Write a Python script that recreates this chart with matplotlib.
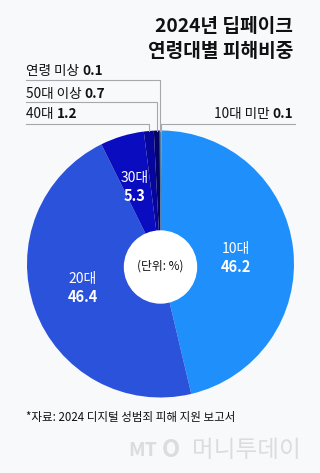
import numpy as np
import matplotlib.pyplot as plt

plt.rcParams['font.family'] = ['Noto Sans CJK KR', 'DejaVu Sans']

W, H = 320, 473

# slices clockwise from 12 o'clock
groups = ['10대 미만', '10대', '20대', '30대', '40대', '50대 이상', '연령 미상']
shares = [0.1, 46.2, 46.4, 5.3, 1.2, 0.7, 0.1]
colors = ['#46C8F2', '#1E8FFB', '#2B52DA', '#0A0CC0', '#06079A', '#030466', '#0B1640']

title_lines = ['2024년 딥페이크', '연령대별 피해비중']
source = '*자료: 2024 디지털 성범죄 피해 지원 보고서'

cx, cy, r = 160.5, 264, 133.5


def Y(y):
    return H - y


fig = plt.figure(figsize=(W / 100, H / 100), dpi=100)
fig.patch.set_facecolor('#F8F9FB')
ax = fig.add_axes([0, 0, 1, 1])
ax.set_facecolor('#F8F9FB')

ax.pie(shares, colors=colors, startangle=90, counterclock=False,
       center=(cx, Y(cy)), radius=r, wedgeprops=dict(linewidth=0))
ax.add_patch(plt.Circle((cx, Y(cy + 3)), 36, color='white', zorder=3))
ax.set_xlim(0, W)
ax.set_ylim(0, H)
ax.set_aspect('auto')
ax.axis('off')

# title
ax.text(293, Y(27), title_lines[0], ha='right', va='center', fontsize=13.8,
        fontweight='bold', color='#111111')
ax.text(293, Y(52), title_lines[1], ha='right', va='center', fontsize=13.8,
        fontweight='bold', color='#111111')

# wedge mid angles (degrees clockwise from top)
cum = np.cumsum([0] + shares)
mid = [(cum[i] + cum[i + 1]) / 2 * 3.6 for i in range(len(shares))]


def edge(i):
    a = np.radians(mid[i])
    return cx + r * np.sin(a), cy - r * np.cos(a)


def two_part(x, y, name, val, ha='left'):
    if ha == 'left':
        t = ax.text(x, Y(y), name + ' ', ha='left', va='center', fontsize=9.8, color='#111111')
        ax.annotate(val, xy=(1, 0.5), xycoords=t, ha='left', va='center',
                    fontsize=9.8, fontweight='bold', color='#111111')
    else:
        t = ax.text(x, Y(y), val, ha='right', va='center', fontsize=9.8,
                    fontweight='bold', color='#111111')
        ax.annotate(name + ' ', xy=(0, 0.5), xycoords=t, ha='right', va='center',
                    fontsize=9.8, color='#111111')


line_kw = dict(color='#A8A8AC', lw=0.8)

# left side labels for the small slices
left = [(6, 71, 80), (5, 94, 102), (4, 114, 124)]
for i, ty, ly in left:
    ex, ey = edge(i)
    two_part(26, ty, groups[i], f'{shares[i]:.1f}')
    ax.plot([26, ex, ex], [Y(ly), Y(ly), Y(ey)], **line_kw)

# right side label
ex, ey = edge(0)
two_part(293, 114, groups[0], f'{shares[0]:.1f}', ha='right')
ax.plot([295, ex, ex], [Y(124), Y(124), Y(ey)], **line_kw)

# inside labels
inside = [(1, 236, 249, 267), (2, 83, 279, 297), (3, 135, 178, 196)]
for i, x, y1, y2 in inside:
    ax.text(x, Y(y1), groups[i], ha='center', va='center', fontsize=10, color='white')
    ax.text(x, Y(y2), f'{shares[i]:.1f}', ha='center', va='center', fontsize=10.5,
            fontweight='bold', color='white')

ax.text(160, Y(266), '(단위: %)', ha='center', va='center', fontsize=8.5,
        color='#111111', zorder=4)

ax.text(26, Y(417), source, ha='left', va='center', fontsize=8.3, color='#111111')

# watermark
ax.text(128, Y(450), 'MT', ha='left', va='center', fontsize=14, style='italic',
        fontweight='bold', color='#DCDCE0')
ax.text(162, Y(450), 'O', ha='left', va='center', fontsize=17, style='italic',
        fontweight='bold', color='#DCDCE0')
ax.text(301, Y(450), '머니투데이', ha='right', va='center', fontsize=17,
        color='#DCDCE0')

fig.savefig('out.png', dpi=100, facecolor=fig.get_facecolor())
